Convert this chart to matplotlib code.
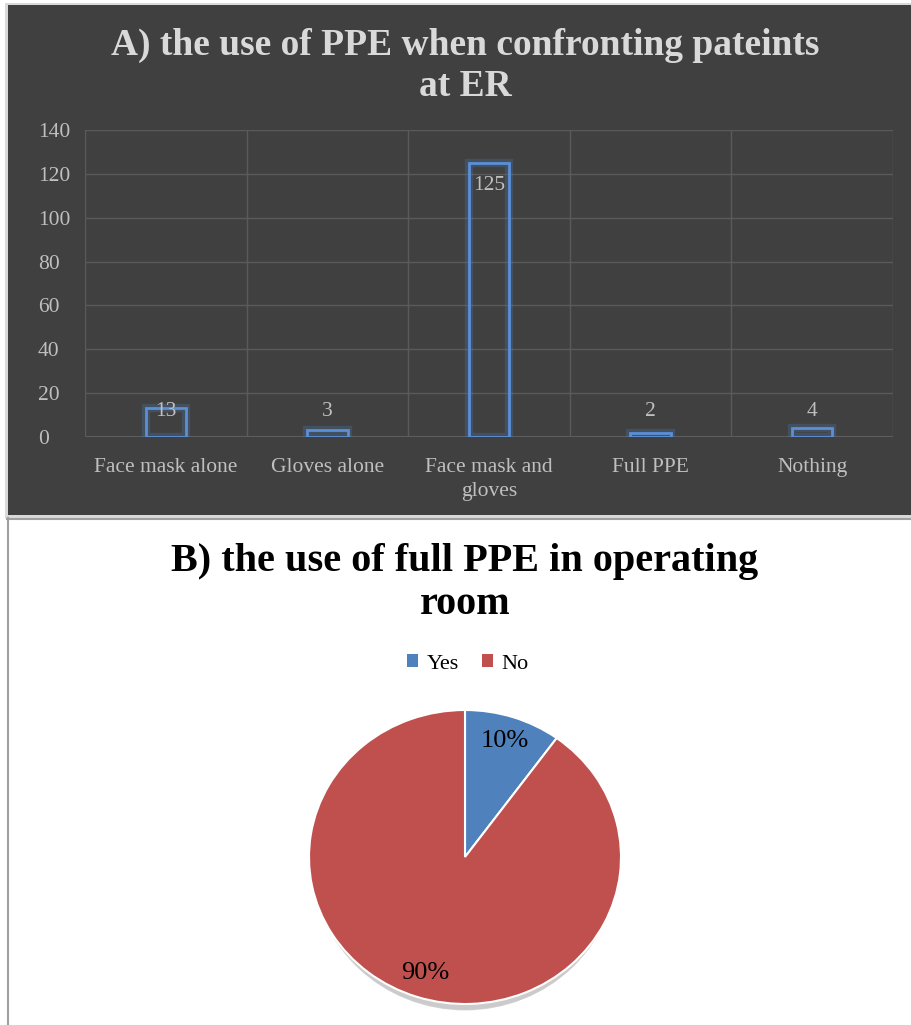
import numpy as np
import matplotlib
matplotlib.use("Agg")
import matplotlib.pyplot as plt
from matplotlib.patches import Rectangle, Ellipse

plt.rcParams['font.family'] = ['Liberation Serif', 'DejaVu Serif']

# data for panel A
categories = ['Face mask alone', 'Gloves alone', 'Face mask and\ngloves', 'Full PPE', 'Nothing']
counts = [13, 3, 125, 2, 4]
yticks = [0, 20, 40, 60, 80, 100, 120, 140]

# data for panel B
pie_labels = ['Yes', 'No']
pie_values = [10, 90]

W, H = 911, 1025
fig = plt.figure(figsize=(W / 100, H / 100), dpi=100)


def box(x0, y0, x1, y1):
    # pixel box (top-left origin) -> figure fraction rect
    return [x0 / W, 1 - y1 / H, (x1 - x0) / W, (y1 - y0) / H]


# panel backgrounds and borders
bg = fig.add_axes([0, 0, 1, 1])
bg.set_xlim(0, W)
bg.set_ylim(H, 0)
bg.axis('off')
bg.add_patch(Rectangle((5, 3), W, 515, facecolor='#d9d9d9', edgecolor='none'))
bg.add_patch(Rectangle((8, 5), W, 510, facecolor='#404040', edgecolor='none'))
bg.plot([7, W], [518.5, 518.5], color='#a0a0a0', lw=1.5)
bg.plot([7.5, 7.5], [518, H], color='#a0a0a0', lw=1.5)

fig.text(465 / W, 1 - 45 / H, 'A) the use of PPE when confronting pateints',
         ha='center', va='center', fontsize=27, fontweight='bold', color='#d9d9d9')
fig.text(465 / W, 1 - 86 / H, 'at ER', ha='center', va='center',
         fontsize=27, fontweight='bold', color='#d9d9d9')

# panel A: bar chart
ax = fig.add_axes(box(85, 130, 893, 437))
ax.set_facecolor('none')
x = np.arange(len(categories))
ax.bar(x, counts, width=0.25, facecolor='none', edgecolor='#4f81bd', lw=6, alpha=0.25)
ax.bar(x, counts, width=0.25, facecolor='none', edgecolor='#5b8fd6', lw=2)
for xi, v in zip(x, counts):
    ax.text(xi, max(v - 10.5, 11.5), str(v), ha='center', va='center',
            fontsize=15.5, color='#bfbfbf')
ax.set_xlim(-0.5, len(categories) - 0.5)
ax.set_ylim(0, 140)
ax.set_yticks(yticks)
ax.set_xticks(x)
ax.set_xticklabels(categories, fontsize=15.5, color='#bfbfbf', linespacing=1.4)
ax.tick_params(axis='y', labelsize=15.5, labelcolor='#bfbfbf', length=0, pad=34)
ax.tick_params(axis='x', which='both', length=0, pad=15)
for t in ax.get_yticklabels():
    t.set_ha('left')
ax.set_xticks(np.arange(len(categories) + 1) - 0.5, minor=True)
ax.grid(axis='y', color='#5a5a5a', lw=1)
ax.grid(axis='x', which='minor', color='#5a5a5a', lw=1)
ax.set_axisbelow(True)
for s in ax.spines.values():
    s.set_visible(False)
ax.axhline(0, color='#5e5e5e', lw=1.5, zorder=0)

# panel B: pie chart
fig.text(465 / W, 1 - 562 / H, 'B) the use of full PPE in operating',
         ha='center', va='center', fontsize=29, fontweight='bold', color='black')
fig.text(465 / W, 1 - 604 / H, 'room', ha='center', va='center',
         fontsize=29, fontweight='bold', color='black')

pax = fig.add_axes(box(309, 710, 621, 1004))
colors = ['#4f81bd', '#c0504d']
for i in range(6):
    pax.add_patch(Ellipse((0, -0.05 - i * 0.006), 1.96 - i * 0.01, 1.98 - i * 0.01,
                          facecolor='#808080', alpha=0.08, edgecolor='none',
                          zorder=0, clip_on=False))
wedges, texts, autotexts = pax.pie(pie_values, colors=colors, startangle=90, counterclock=False,
                                   autopct='%d%%', pctdistance=0.83,
                                   wedgeprops=dict(edgecolor='white', linewidth=1.5),
                                   textprops=dict(fontsize=19, color='black'))
pax.set_aspect('auto')
pax.set_xlim(-1.0, 1.0)
pax.set_ylim(-1.0, 1.0)
pax.axis('off')

handles = [Rectangle((0, 0), 1, 1, facecolor=c) for c in colors]
fig.legend(handles, pie_labels, loc='center', bbox_to_anchor=(468 / W, 1 - 664 / H),
           ncol=2, frameon=False, fontsize=16, handlelength=0.5, handleheight=0.5,
           handletextpad=0.4, columnspacing=1.0)

fig.savefig('out.png', dpi=100)
